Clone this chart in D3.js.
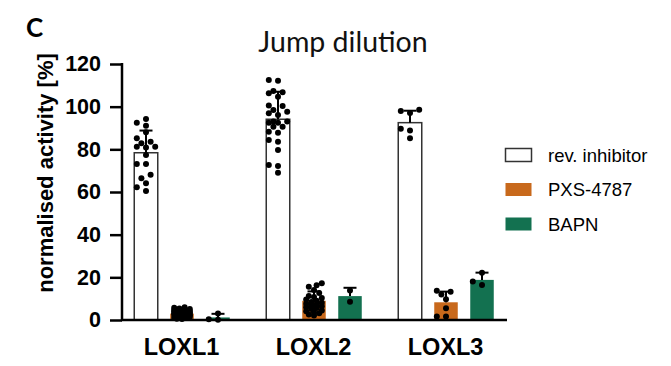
<!DOCTYPE html>
<html><head><meta charset="utf-8">
<script src="https://cdn.jsdelivr.net/npm/d3@7"></script>
<style>body{margin:0;background:#fff}svg{display:block}</style>
</head><body>
<svg id="chart" width="671" height="366"></svg>
<script>
const categories = ["LOXL1", "LOXL2", "LOXL3"];
const seriesNames = ["rev. inhibitor", "PXS-4787", "BAPN"];
const yTicks = [0, 20, 40, 60, 80, 100, 120];

const revMeans = [78.4, 94.1, 92.5];
const revSD = [10.4, 12.9, 5.6];
const pxsMeans = [3.0, 9.0, 8.3];
const pxsSD = [1.6, 4.4, 5.0];
const bapnMeans = [1.2, 11.2, 18.8];
const bapnSD = [1.7, 3.9, 3.4];

const revDotsL1 = [94.2, 92.5, 91.1, 88.0, 85.2, 83.6, 82.8, 81.2, 81.2, 80.9, 77.3, 73.1, 73.1, 68.1, 66.4, 64.1, 62.2, 60.5];
const revDotsL2 = [112.2, 112.5, 106.7, 107.3, 106.3, 104.7, 100.5, 100.3, 98.4, 97.6, 96.9, 96.1, 93.0, 92.5, 93.0, 92.5, 90.6, 90.6, 88.3, 87.8, 83.6, 84.4, 79.7, 72.7, 72.2, 69.0];
const revDotsL3 = [98.0, 97.0, 98.5, 89.6, 88.8, 85.2];
const pxsDotsL1 = [6.0, 5.7, 5.4, 5.2, 4.9, 4.7, 4.4, 4.1, 4.0, 3.7, 3.5, 3.3, 3.1, 2.8, 2.6, 2.4, 2.2, 1.9, 1.6, 1.4, 1.1, 0.9, 0.6, 3.2, 2.5, 4.2, 1.8, 0.5];
const pxsDotsL2 = [17.2, 16.3, 15.6, 14.1, 12.7, 11.2, 10.3, 9.6, 9.0, 8.4, 8.1, 7.6, 7.2, 6.4, 6.0, 5.6, 5.1, 4.4, 4.1, 3.6, 3.2, 2.6, 2.1, 10.8, 6.8];
const pxsDotsL3 = [12.0, 13.7, 13.3, 9.7, 5.5, 1.6, 1.6];
const bapnDotsL1 = [3.1, 0.4, 0.1];
const bapnDotsL2 = [13.8, 8.6];
const bapnDotsL3 = [16.4, 18.0, 22.2];

const colors = ["#ffffff", "#c8691c", "#137150"];

const series = [
  {means: revMeans, sd: revSD, dots: [revDotsL1, revDotsL2, revDotsL3]},
  {means: pxsMeans, sd: pxsSD, dots: [pxsDotsL1, pxsDotsL2, pxsDotsL3]},
  {means: bapnMeans, sd: bapnSD, dots: [bapnDotsL1, bapnDotsL2, bapnDotsL3]}
];

const svg = d3.select("#chart");
const y = d3.scaleLinear().domain([0, 120]).range([320, 64]);
const x0 = d3.scaleBand().domain(categories).range([115.5, 511.5]);
const x1 = d3.scaleBand().domain(seriesNames).range([12.5, 120.5]).paddingInner(0.347).paddingOuter(0.1735);

// bars
series.forEach((s, si) => {
  categories.forEach((c, ci) => {
    const bx = x0(c) + x1(seriesNames[si]);
    const bw = x1.bandwidth();
    svg.append("rect")
      .attr("x", bx).attr("y", y(s.means[ci]))
      .attr("width", bw).attr("height", y(0) - y(s.means[ci]))
      .attr("fill", colors[si])
      .attr("stroke", si === 0 ? "#333" : "none")
      .attr("stroke-width", 1.5);
  });
});

// error bars
series.forEach((s, si) => {
  categories.forEach((c, ci) => {
    const cx = x0(c) + x1(seriesNames[si]) + x1.bandwidth() / 2;
    const top = y(s.means[ci] + s.sd[ci]);
    svg.append("line").attr("x1", cx).attr("x2", cx)
      .attr("y1", y(s.means[ci])).attr("y2", top)
      .attr("stroke", "#000").attr("stroke-width", 2);
    svg.append("line").attr("x1", cx - 6.5).attr("x2", cx + 6.5)
      .attr("y1", top).attr("y2", top)
      .attr("stroke", "#000").attr("stroke-width", 2);
  });
});

// dots with beeswarm placement
const r = 3;
function swarm(vals, cx, half, step, minD) {
  const sorted = vals.slice().sort((a, b) => a - b);
  const placed = [];
  sorted.forEach(v => {
    const py = y(v);
    let best = 0, bestOv = Infinity;
    for (let k = 0; k < 16; k++) {
      const off = (k === 0 ? 0 : (k % 2 ? -1 : 1) * Math.ceil(k / 2) * step);
      if (Math.abs(off) > half) continue;
      let ov = 0;
      placed.forEach(p => {
        const d = Math.hypot(p.x - (cx + off), p.y - py);
        if (d < minD) ov += (minD - d);
      });
      if (ov === 0) { best = off; bestOv = 0; break; }
      if (ov < bestOv - 0.5) { bestOv = ov; best = off; }
    }
    placed.push({x: cx + best, y: py});
  });
  return placed;
}
series.forEach((s, si) => {
  categories.forEach((c, ci) => {
    const cx = x0(c) + x1(seriesNames[si]) + x1.bandwidth() / 2;
    const dense = s.dots[ci].length > 20 && s.means[ci] < 20;
    const pts = dense ? swarm(s.dots[ci], cx, 10, 2.6, 5.2) : swarm(s.dots[ci], cx, 11, 4.6, 6.2);
    svg.append("g").selectAll("circle").data(pts).join("circle")
      .attr("cx", d => d.x).attr("cy", d => d.y).attr("r", r).attr("fill", "#000");
  });
});

// axes
const yAxis = d3.axisLeft(y).tickValues(yTicks).tickSize(12).tickPadding(9);
const gy = svg.append("g").attr("transform", "translate(122,0)").call(yAxis);
gy.select(".domain").attr("stroke", "#000").attr("stroke-width", 2.5).attr("d", "M0,63V321");
gy.selectAll(".tick line").attr("stroke", "#000").attr("stroke-width", 2.5);
gy.selectAll(".tick text").attr("font-family", "Liberation Sans, Arial, sans-serif")
  .attr("font-weight", "bold").attr("font-size", 21.5).attr("fill", "#000");

const xAxis = d3.axisBottom(x0).tickSize(0).tickPadding(18);
const gx = svg.append("g").attr("transform", "translate(0,320)").call(xAxis);
gx.select(".domain").attr("stroke", "#000").attr("stroke-width", 2.5).attr("d", "M121,0H507");
gx.selectAll(".tick text").attr("font-family", "Liberation Sans, Arial, sans-serif")
  .attr("font-weight", "bold").attr("font-size", 23.5).attr("fill", "#000");

// axis title
svg.append("text").attr("transform", "translate(53,173) rotate(-90)")
  .attr("text-anchor", "middle").attr("font-family", "Liberation Sans, Arial, sans-serif")
  .attr("font-weight", "bold").attr("font-size", 22).text("normalised activity [%]");

// chart title
svg.append("text").attr("x", 343).attr("y", 52).attr("text-anchor", "middle")
  .attr("font-family", "Lato, sans-serif").attr("font-size", 28.5).attr("fill", "#111").text("Jump dilution");

// panel letter
svg.append("text").attr("x", 26).attr("y", 37)
  .attr("font-family", "Lato, sans-serif").attr("font-weight", "bold").attr("font-size", 26).text("C");

// legend
const leg = svg.append("g");
seriesNames.forEach((n, i) => {
  const ly = 155 + i * 34.5;
  leg.append("rect").attr("x", 505.5).attr("y", ly - 6.5).attr("width", 26).attr("height", 13)
    .attr("fill", colors[i]).attr("stroke", i === 0 ? "#333" : "none").attr("stroke-width", 1.5);
  leg.append("text").attr("x", 548).attr("y", ly).attr("dy", "0.36em")
    .attr("font-family", "Liberation Sans, Arial, sans-serif").attr("font-size", 18.5).text(n);
});
</script>
</body></html>
